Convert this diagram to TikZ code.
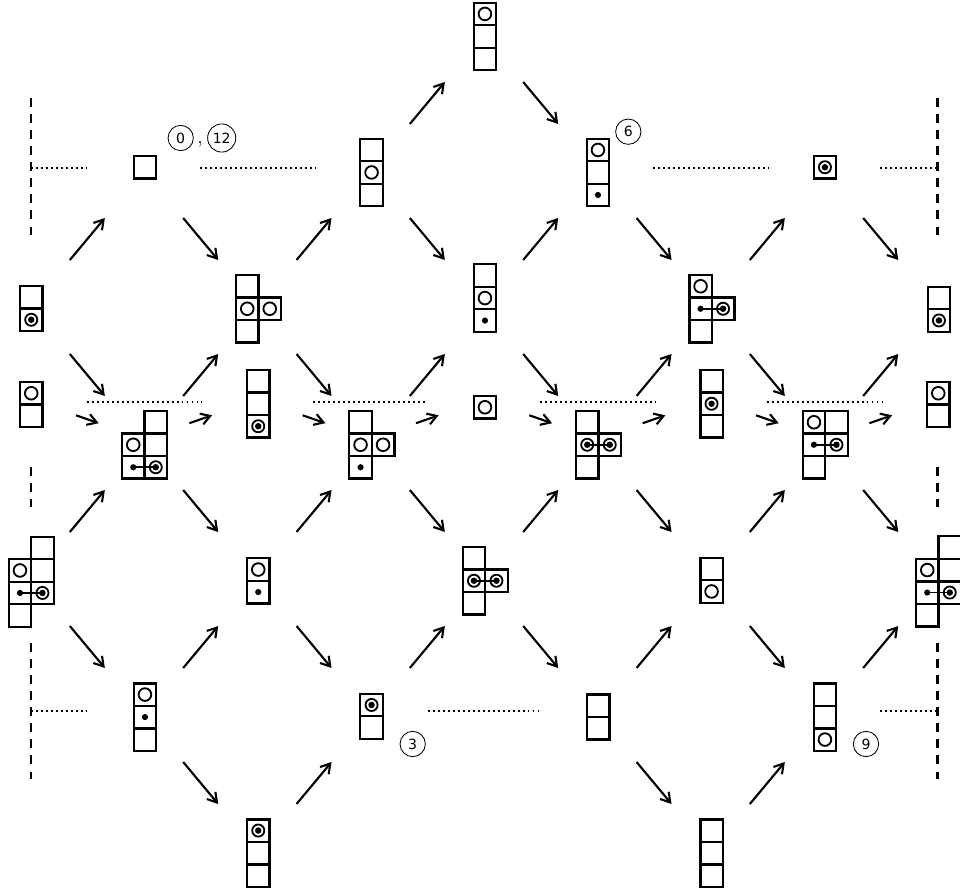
\documentclass[tikz,border=0pt]{standalone}
\usepackage{fontspec}
\setsansfont{DejaVu Sans}
\usetikzlibrary{arrows.meta,calc}
\def\ydsz{22.5}
\newcommand\ydc[2]{\draw[ydline] ({#1*\ydsz},{#2*\ydsz}) rectangle ++(\ydsz,\ydsz);}
\newcommand\ydo[2]{\draw[ring] ({(#1+0.5)*\ydsz},{(#2+0.5)*\ydsz}) circle[radius=4.5pt];}
\newcommand\ydb[2]{\draw[ring] ({(#1+0.5)*\ydsz},{(#2+0.5)*\ydsz}) circle[radius=4.3pt];
  \fill ({(#1+0.5)*\ydsz},{(#2+0.5)*\ydsz}) circle[radius=2.3pt];}
\newcommand\ydd[2]{\fill ({(#1+0.5)*\ydsz},{(#2+0.5)*\ydsz}) circle[radius=2.2pt];}
\newcommand\ydl[4]{\draw[ring] ({(#1+0.5)*\ydsz},{(#2+0.5)*\ydsz}) -- ({(#3+0.5)*\ydsz},{(#4+0.5)*\ydsz});}
\newcommand\yd[4]{\coordinate (#1) at (#2,#3);\begin{scope}[shift={(#1)}]#4\end{scope}}
\begin{document}
\begin{tikzpicture}[x=0.25mm,y=-0.25mm,
  ydline/.style={line width=1.7pt},
  ring/.style={line width=1.3pt},
  arr/.style={line width=1.5pt,-{Straight Barb[length=6.5pt,width=8pt]},shorten <=15.3mm,shorten >=15.3mm},
  sarr/.style={line width=1.5pt,-{Straight Barb[length=6.5pt,width=8pt]},shorten <=12mm,shorten >=12mm},
  dashv/.style={line width=1.6pt,dash pattern=on 6.4pt off 5pt},
  dotl/.style={line width=1.6pt,dash pattern=on 1.4pt off 2.15pt},
  lab/.style={circle,draw,line width=0.6pt,minimum size=18pt,inner sep=0.5pt,font=\sffamily\fontsize{10}{12}\selectfont}]
\useasboundingbox (0,0) rectangle (960,892);
% lattice vertices
\coordinate (v40) at (484.0,35);
\foreach \k/\x in {1/144.0,3/370.7,5/597.4,7/824.0}{
  \coordinate (v\k1) at (\x,171);
  \coordinate (v\k3) at (\x,443);
  \coordinate (v\k5) at (\x,715);
  \coordinate (t\k) at (\x,439);}
\foreach \k/\x in {0/30.7,2/257.4,4/484.0,6/710.7,8/937.4}{
  \coordinate (v\k2) at (\x,307);
  \coordinate (v\k4) at (\x,579);
  \coordinate (s\k) at (\x,399.5);}
\coordinate (v26) at (257.4,851);
\coordinate (v66) at (710.7,851);
% diagrams
\yd{T0}{473.7}{2.7}{\ydc00\ydc01\ydc02\ydo00}
\yd{R1a}{133.7}{156}{\ydc00}
\yd{R1b}{360.3}{138.7}{\ydc00\ydc01\ydc02\ydo01}
\yd{R1c}{586.7}{138.7}{\ydc00\ydc01\ydc02\ydo00\ydd02}
\yd{R1d}{813.7}{156}{\ydc00\ydb00}
\yd{R2a}{20}{286}{\ydc00\ydc01\ydb01}
\yd{R2b}{236}{275}{\ydc00\ydc01\ydc02\ydc11\ydo01\ydo11}
\yd{R2c}{473.7}{264.3}{\ydc00\ydc01\ydc02\ydo01\ydd02}
\yd{R2d}{689.3}{275}{\ydc00\ydc01\ydc02\ydc11\ydo00\ydl0111\ydd01\ydb11}
\yd{R2e}{927.7}{286.7}{\ydc00\ydc01\ydb01}
\yd{S0}{20}{382}{\ydc00\ydc01\ydo00}
\yd{S2}{247}{370}{\ydc00\ydc01\ydc02\ydb02}
\yd{S4}{473.7}{396}{\ydc00\ydo00}
\yd{S6}{700.3}{370}{\ydc00\ydc01\ydc02\ydb01}
\yd{S8}{927}{382}{\ydc00\ydc01\ydo00}
\yd{L1}{122}{411}{\ydc10\ydc01\ydc11\ydc02\ydc12\ydo01\ydl0212\ydd02\ydb12}
\yd{L3}{349.3}{411}{\ydc00\ydc01\ydc11\ydc02\ydo01\ydo11\ydd02}
\yd{L5}{576}{411}{\ydc00\ydc01\ydc11\ydc02\ydl0111\ydb01\ydb11}
\yd{L7}{802.7}{411}{\ydc00\ydc10\ydc01\ydc11\ydc02\ydo00\ydl0111\ydd01\ydb11}
\yd{R4a}{8.7}{536.7}{\ydc10\ydc11\ydc12\ydc01\ydc02\ydc03\ydo01\ydl0212\ydd02\ydb12}
\yd{R4b}{247}{558.3}{\ydc00\ydc01\ydo00\ydd01}
\yd{R4c}{462.7}{547}{\ydc00\ydc01\ydc11\ydc02\ydl0111\ydb01\ydb11}
\yd{R4d}{700.3}{557.7}{\ydc00\ydc01\ydo01}
\yd{R4e}{916}{536.3}{\ydc10\ydc11\ydc12\ydc01\ydc02\ydc03\ydo01\ydl0212\ydd02\ydb12}
\yd{R5a}{133.7}{683.3}{\ydc00\ydc01\ydc02\ydo00\ydd01}
\yd{R5b}{360.3}{693.7}{\ydc00\ydc01\ydb00}
\yd{R5c}{587}{694.3}{\ydc00\ydc01}
\yd{R5d}{813.7}{683.3}{\ydc00\ydc01\ydc02\ydo02}
\yd{R6a}{247}{819.3}{\ydc00\ydc01\ydc02\ydb00}
\yd{R6b}{700.3}{819.3}{\ydc00\ydc01\ydc02}
% arrows
\foreach \a/\b in {v31/v40,v40/v51,
  v02/v11,v11/v22,v22/v31,v31/v42,v42/v51,v51/v62,v62/v71,v71/v82,
  v02/v13,v13/v22,v22/v33,v33/v42,v42/v53,v53/v62,v62/v73,v73/v82,
  v04/v13,v13/v24,v24/v33,v33/v44,v44/v53,v53/v64,v64/v73,v73/v84,
  v04/v15,v15/v24,v24/v35,v35/v44,v44/v55,v55/v64,v64/v75,v75/v84,
  v15/v26,v26/v35,v55/v66,v66/v75}
  \draw[arr] (\a) -- (\b);
\foreach \a/\b in {s0/t1,t1/s2,s2/t3,t3/s4,s4/t5,t5/s6,s6/t7,t7/s8}
  \draw[sarr] (\a) -- (\b);
% dashed verticals
\foreach \x in {30.7,937.4}{
  \draw[dashv] (\x,98.3) -- (\x,235);
  \draw[dashv] (\x,466.7) -- (\x,507);
  \draw[dashv] (\x,643.3) -- (\x,779.3);}
% dotted lines
\draw[dotl] (30.7,167.7) -- (86,167.7);
\draw[dotl] (200,167.7) -- (315,167.7);
\draw[dotl] (653.3,167.7) -- (768.3,167.7);
\draw[dotl] (880,167.7) -- (937.4,167.7);
\draw[dotl] (86.7,402.3) -- (201.7,402.3);
\draw[dotl] (313.3,402.3) -- (426.7,402.3);
\draw[dotl] (540,402.3) -- (655,402.3);
\draw[dotl] (766.7,402.3) -- (881.7,402.3);
\draw[dotl] (30.7,710.7) -- (86,710.7);
\draw[dotl] (427.7,710.7) -- (540,710.7);
\draw[dotl] (880,710.7) -- (937.4,710.7);
% labels
\node[lab] (n0) at (180.7,138) {0};
\node[anchor=base,inner sep=0pt,font=\fontsize{14}{16}\selectfont] (comma) at (200,143.5) {,};
\node[lab,minimum size=20pt] (n12) at (221.7,138) {12};
\node[lab] (n6) at (628.3,131.7) {6};
\node[lab] (n3) at (412.7,744) {3};
\node[lab] (n9) at (866,744) {9};
\end{tikzpicture}
\end{document}
